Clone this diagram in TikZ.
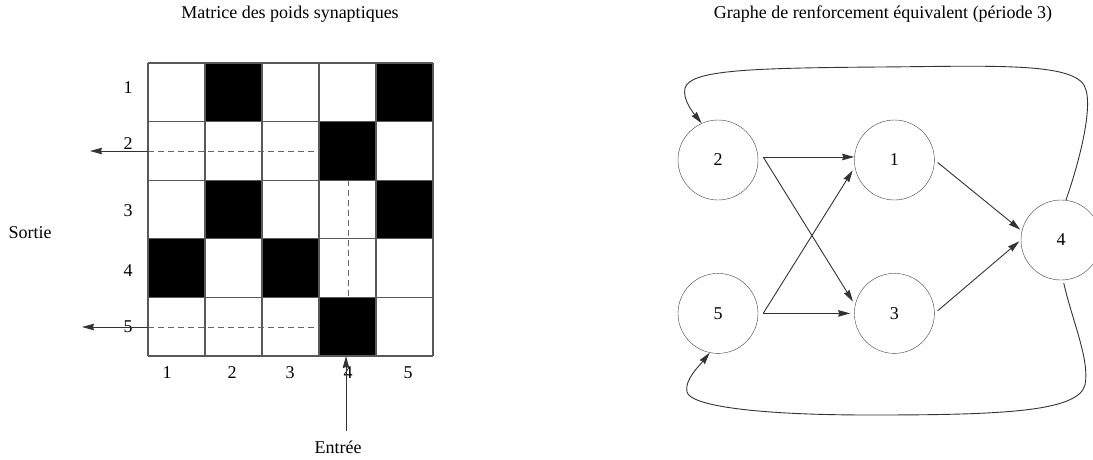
\documentclass[tikz,border=0pt]{standalone}
\usepackage{fontspec}
\setmainfont{Liberation Serif}
\usetikzlibrary{positioning,arrows.meta}

\begin{document}
\begin{tikzpicture}[x=1pt, y=-1pt, >={Stealth[length=12pt,width=6.5pt,inset=1pt]},
    every node/.style={font=\fontsize{18}{20}\selectfont},
    neurone/.style={draw=black!75, circle, minimum size=80pt, inner sep=0pt},
    lien/.style={->, line width=0.9pt, draw=black!80},
    pointille/.style={draw=black!60, line width=0.9pt, dash pattern=on 6pt off 4pt}]
    \useasboundingbox (0,0) rectangle (1093,459);

    \node (T1) at (290,14) {Matrice des poids synaptiques};
    \node (T2) at (883,14) {Graphe de renforcement équivalent (période 3)};

    % matrice
    \foreach \r/\c in {1/2,1/5,2/4,3/2,3/5,4/1,4/3,5/4}
        \fill[black] ({148+57*(\c-1)},{63+58.6*(\r-1)}) rectangle ++(57,58.6);
    \foreach \i in {0,...,5} {
        \draw[black!65, line width=1.3pt] ({148+57*\i},63) -- ({148+57*\i},356);
        \draw[black!65, line width=1.3pt] (148,{63+58.6*\i}) -- (433,{63+58.6*\i});
    }
    \foreach \r/\y in {1/88,2/144,3/211,4/271,5/327}
        \node (L\r) at (128,\y) {\r};
    \foreach \c/\x in {1/167,2/232,3/290,4/348,5/408}
        \node (C\c) at (\x,373) {\c};
    \node (sortie) at (30,233) {Sortie};
    \node (entree) at (338,447) {Entrée};

    \coordinate (g2) at (148,151);
    \coordinate (o2) at (90,151);
    \coordinate (x2) at (319,151);
    \coordinate (g5) at (148,327);
    \coordinate (o5) at (82,327);
    \coordinate (x5) at (319,327);
    \coordinate (v1) at (348,180);
    \coordinate (v2) at (348,297);
    \coordinate (e) at (346,356);
    \draw[pointille] (g2) -- (x2);
    \draw[pointille] (g5) -- (x5);
    \draw[pointille] (v1) -- (v2);
    \draw[lien] (g2) -- (o2);
    \draw[lien] (g5) -- (o5);
    \draw[lien, shorten <=6pt] (e |- entree.north) -- (e);

    % graphe
    \node[neurone] (n2) at (718,160) {2};
    \node[neurone, right=96pt of n2] (n1) {1};
    \node[neurone, below=73pt of n2] (n5) {5};
    \node[neurone, right=96pt of n5] (n3) {3};
    \node[neurone] (n4) at (1061,240) {4};
    \coordinate (d2) at ([xshift=5pt,yshift=3pt]n2.east);
    \coordinate (d5) at ([xshift=5pt]n5.east);

    \draw[lien] (d2) -- (d2 -| n1.west);
    \draw[lien, shorten >=4pt] (d2) -- (n3.168);
    \draw[lien, shorten >=4pt] (d5) -- (n1.190);
    \draw[lien, shorten >=4pt] (d5) -- (n3.west);
    \draw[lien, shorten <=4pt, shorten >=2pt] (n1.east) -- (n4.167);
    \draw[lien, shorten <=4pt, shorten >=2pt] (n3.east) -- (n4.west);
    \draw[lien] (n4.83) .. controls (1080,160) and (1092,110) .. (1086,90)
        .. controls (1080,62) and (1000,66) .. (880,67)
        .. controls (750,68) and (690,70) .. (685,88)
        .. controls (682,100) and (695,115) .. (n2.114);
    \draw[lien, shorten <=3pt] (n4.-87) .. controls (1072,320) and (1090,360) .. (1085,385)
        .. controls (1078,412) and (1000,415) .. (870,415)
        .. controls (750,415) and (690,405) .. (687,392)
        .. controls (684,380) and (700,365) .. (n5.258);
\end{tikzpicture}
\end{document}
